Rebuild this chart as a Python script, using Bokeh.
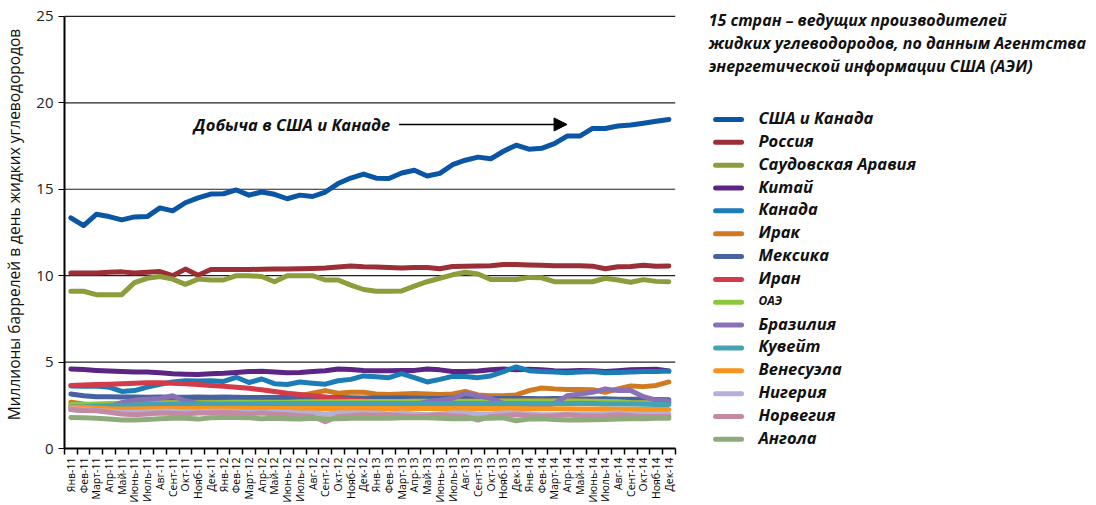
from bokeh.plotting import figure
from bokeh.models import (Range1d, FixedTicker, Label, Arrow, NormalHead)
from bokeh.embed import file_html
from bokeh.resources import INLINE

months = ["Янв-11", "Фев-11", "Март-11", "Апр-11", "Май-11", "Июнь-11", "Июль-11", "Авг-11", "Сент-11", "Окт-11", "Нояб-11", "Дек-11",
          "Янв-12", "Фев-12", "Март-12", "Апр-12", "Май-12", "Июнь-12", "Июль-12", "Авг-12", "Сент-12", "Окт-12", "Нояб-12", "Дек-12",
          "Янв-13", "Фев-13", "Март-13", "Апр-13", "Май-13", "Июнь-13", "Июль-13", "Авг-13", "Сент-13", "Окт-13", "Нояб-13", "Дек-13",
          "Янв-14", "Фев-14", "Март-14", "Апр-14", "Май-14", "Июнь-14", "Июль-14", "Авг-14", "Сент-14", "Окт-14", "Нояб-14", "Дек-14"]

names = ["США и Канада", "Россия", "Саудовская Аравия", "Китай", "Канада", "Ирак", "Мексика", "Иран",
         "ОАЭ", "Бразилия", "Кувейт", "Венесуэла", "Нигерия", "Норвегия", "Ангола"]

colors = ["#0b56a4", "#9a2f36", "#8c9d3c", "#5c2483", "#1c7cb6", "#cf7a20", "#46639f", "#d33b4b",
          "#8dc63f", "#8a70b4", "#45a1b4", "#f7941d", "#b3b0dc", "#c48aa3", "#8eab7c"]

us_ca = [13.35, 12.9, 13.55, 13.42, 13.23, 13.4, 13.42, 13.92, 13.75, 14.22, 14.5, 14.72,
         14.74, 14.96, 14.66, 14.84, 14.71, 14.45, 14.66, 14.58, 14.84, 15.33, 15.65, 15.88,
         15.64, 15.62, 15.94, 16.1, 15.77, 15.92, 16.42, 16.68, 16.86, 16.76, 17.2, 17.55,
         17.32, 17.37, 17.64, 18.08, 18.08, 18.52, 18.52, 18.66, 18.72, 18.82, 18.93, 19.04]
russia = [10.15, 10.15, 10.15, 10.2, 10.22, 10.15, 10.2, 10.24, 10.0, 10.38, 10.02, 10.36,
          10.36, 10.36, 10.36, 10.37, 10.38, 10.38, 10.4, 10.42, 10.45, 10.5, 10.56, 10.52,
          10.5, 10.47, 10.45, 10.47, 10.47, 10.4, 10.53, 10.55, 10.56, 10.57, 10.65, 10.65,
          10.62, 10.6, 10.58, 10.58, 10.57, 10.55, 10.4, 10.52, 10.53, 10.6, 10.55, 10.56]
saudi = [9.1, 9.1, 8.9, 8.9, 8.9, 9.6, 9.85, 9.95, 9.8, 9.5, 9.8, 9.75,
         9.75, 10.0, 10.0, 9.95, 9.65, 10.0, 10.0, 10.0, 9.75, 9.75, 9.45, 9.2,
         9.1, 9.1, 9.12, 9.4, 9.65, 9.85, 10.05, 10.2, 10.1, 9.78, 9.78, 9.78,
         9.9, 9.88, 9.65, 9.65, 9.65, 9.65, 9.85, 9.75, 9.62, 9.77, 9.67, 9.65]
china = [4.6, 4.57, 4.52, 4.48, 4.45, 4.42, 4.42, 4.38, 4.33, 4.3, 4.28, 4.33,
         4.35, 4.4, 4.45, 4.47, 4.42, 4.38, 4.4, 4.45, 4.5, 4.6, 4.57, 4.52,
         4.5, 4.5, 4.52, 4.52, 4.6, 4.55, 4.45, 4.45, 4.48, 4.55, 4.6, 4.55,
         4.58, 4.55, 4.5, 4.48, 4.52, 4.5, 4.45, 4.5, 4.55, 4.57, 4.58, 4.48]
canada = [3.62, 3.6, 3.62, 3.55, 3.3, 3.35, 3.55, 3.72, 3.85, 3.92, 3.9, 3.92,
          3.88, 4.12, 3.82, 4.02, 3.75, 3.7, 3.85, 3.78, 3.72, 3.92, 4.0, 4.2,
          4.15, 4.1, 4.33, 4.1, 3.85, 4.0, 4.17, 4.17, 4.1, 4.2, 4.45, 4.72,
          4.5, 4.45, 4.42, 4.38, 4.42, 4.45, 4.38, 4.4, 4.42, 4.45, 4.45, 4.48]
iraq = [2.68, 2.58, 2.5, 2.55, 2.6, 2.62, 2.68, 2.72, 2.76, 2.8, 2.82, 2.82,
        2.82, 2.8, 2.75, 2.72, 2.78, 2.88, 3.05, 3.2, 3.35, 3.2, 3.25, 3.25,
        3.15, 3.13, 3.15, 3.18, 3.15, 3.12, 3.15, 3.3, 3.1, 3.05, 3.05, 3.1,
        3.35, 3.5, 3.45, 3.42, 3.42, 3.4, 3.25, 3.45, 3.62, 3.58, 3.65, 3.85]
mexico = [3.15, 3.05, 3.0, 3.0, 2.98, 2.98, 2.97, 2.98, 2.97, 2.97, 2.98, 2.97,
          2.98, 2.97, 2.95, 2.95, 2.95, 2.95, 2.95, 2.93, 2.95, 2.95, 2.93, 2.92,
          2.92, 2.92, 2.93, 2.92, 2.9, 2.9, 2.92, 2.9, 2.92, 2.9, 2.9, 2.9,
          2.9, 2.88, 2.9, 2.88, 2.87, 2.87, 2.88, 2.85, 2.85, 2.85, 2.83, 2.82]
iran = [3.65, 3.68, 3.7, 3.72, 3.75, 3.78, 3.8, 3.8, 3.78, 3.75, 3.7, 3.65,
        3.6, 3.55, 3.48, 3.4, 3.3, 3.2, 3.12, 3.05, 2.98, 2.9, 2.82, 2.76,
        2.72, 2.72, 2.72, 2.73, 2.72, 2.73, 2.74, 2.74, 2.74, 2.74, 2.75, 2.75,
        2.75, 2.75, 2.75, 2.75, 2.75, 2.74, 2.72, 2.7, 2.66, 2.64, 2.64, 2.65]
uae = [2.55, 2.55, 2.58, 2.6, 2.62, 2.62, 2.62, 2.63, 2.65, 2.65, 2.65, 2.65,
       2.66, 2.67, 2.68, 2.68, 2.68, 2.68, 2.7, 2.7, 2.7, 2.7, 2.72, 2.72,
       2.72, 2.72, 2.72, 2.73, 2.73, 2.73, 2.74, 2.74, 2.74, 2.74, 2.75, 2.75,
       2.75, 2.75, 2.75, 2.75, 2.75, 2.74, 2.72, 2.7, 2.66, 2.64, 2.64, 2.65]
brazil = [2.25, 2.2, 2.25, 2.4, 2.65, 2.8, 2.85, 2.9, 3.05, 2.75, 2.6, 2.5,
          2.5, 2.45, 2.35, 2.25, 2.2, 2.3, 2.4, 2.55, 2.45, 2.4, 2.45, 2.5,
          2.4, 2.35, 2.3, 2.55, 2.7, 2.8, 2.9, 3.2, 3.05, 2.9, 2.6, 2.45,
          2.3, 2.4, 2.6, 3.05, 3.15, 3.25, 3.45, 3.35, 3.35, 3.0, 2.8, 2.75]
kuwait = [2.42, 2.42, 2.45, 2.48, 2.5, 2.52, 2.55, 2.55, 2.56, 2.57, 2.57, 2.57,
          2.58, 2.58, 2.58, 2.59, 2.59, 2.6, 2.6, 2.6, 2.6, 2.6, 2.6, 2.6,
          2.6, 2.6, 2.6, 2.6, 2.6, 2.6, 2.6, 2.6, 2.6, 2.6, 2.6, 2.6,
          2.6, 2.6, 2.6, 2.6, 2.6, 2.6, 2.58, 2.58, 2.57, 2.56, 2.55, 2.55]
venezuela = [2.4, 2.38, 2.35, 2.3, 2.28, 2.28, 2.3, 2.32, 2.32, 2.32, 2.32, 2.32,
             2.32, 2.32, 2.32, 2.32, 2.32, 2.32, 2.32, 2.32, 2.32, 2.32, 2.32, 2.32,
             2.32, 2.32, 2.32, 2.32, 2.32, 2.32, 2.32, 2.32, 2.32, 2.32, 2.32, 2.32,
             2.3, 2.3, 2.3, 2.3, 2.28, 2.28, 2.28, 2.27, 2.27, 2.26, 2.26, 2.25]
nigeria = [2.3, 2.25, 2.2, 2.15, 2.1, 2.1, 2.12, 2.15, 2.15, 2.12, 2.12, 2.15,
           2.15, 2.12, 2.1, 2.1, 2.12, 2.1, 2.05, 2.05, 2.0, 2.05, 2.05, 2.05,
           2.05, 2.0, 2.05, 2.0, 1.95, 2.0, 2.05, 2.05, 2.0, 2.0, 2.05, 2.05,
           2.0, 1.95, 1.95, 1.98, 2.0, 2.0, 2.02, 2.05, 2.0, 1.98, 2.0, 2.0]
norway = [2.25, 2.2, 2.18, 2.1, 2.0, 1.95, 2.0, 2.05, 2.02, 2.0, 2.05, 2.05,
          2.08, 2.05, 2.0, 2.05, 2.0, 1.95, 1.9, 1.85, 1.55, 1.85, 1.9, 1.95,
          1.92, 1.95, 1.9, 1.85, 1.9, 1.95, 1.9, 1.85, 1.65, 1.85, 1.9, 1.95,
          1.9, 1.85, 1.9, 1.95, 1.9, 1.88, 1.9, 1.95, 1.9, 1.85, 1.85, 1.85]
angola = [1.8, 1.78, 1.75, 1.7, 1.65, 1.65, 1.68, 1.72, 1.75, 1.75, 1.7, 1.78,
          1.8, 1.8, 1.78, 1.72, 1.75, 1.72, 1.7, 1.75, 1.72, 1.72, 1.75, 1.75,
          1.75, 1.75, 1.78, 1.8, 1.78, 1.75, 1.72, 1.72, 1.75, 1.75, 1.78, 1.6,
          1.7, 1.72, 1.68, 1.65, 1.65, 1.67, 1.68, 1.7, 1.72, 1.72, 1.75, 1.75]

series = [us_ca, russia, saudi, china, canada, iraq, mexico, iran,
          uae, brazil, kuwait, venezuela, nigeria, norway, angola]

y_ticks = [0, 5, 10, 15, 20, 25]
title_lines = ["15 стран – ведущих производителей",
               "жидких углеводородов, по данным Агентства",
               "энергетической информации США (АЭИ)"]
annot_text = "Добыча в США и Канаде"
y_label = "Миллионы баррелей в день жидких углеводородов"

FONT = "Open Sans"
W, H = 1096, 505

# page-pixel layout of the plotting frame
FR_LEFT, FR_RIGHT, FR_TOP, FR_BOTTOM = 61, W, 0, 450
CAT_PX = 12.76                           # px per month slot
Y_PX = (FR_BOTTOM - 16) / y_ticks[-1]    # px per unit (25 sits at page y=16)

n = len(months)
xs = list(range(n))
x_end = -0.5 + (FR_RIGHT - FR_LEFT) / CAT_PX
y_end = (FR_BOTTOM - FR_TOP) / Y_PX

p = figure(width=W, height=H, output_backend="svg", toolbar_location=None,
           x_range=Range1d(-0.5, x_end), y_range=Range1d(0, y_end),
           min_border_left=FR_LEFT, min_border_right=W - FR_RIGHT,
           min_border_top=FR_TOP, min_border_bottom=H - FR_BOTTOM)
p.extra_x_ranges = {"px": Range1d(FR_LEFT, FR_RIGHT)}
p.extra_y_ranges = {"py": Range1d(FR_BOTTOM, FR_TOP)}
p.outline_line_color = None
p.grid.visible = False

# horizontal grid lines only across the month slots
p.segment(x0=[-0.5] * len(y_ticks), x1=[n - 0.5] * len(y_ticks), y0=y_ticks, y1=y_ticks,
          line_color="#222222", line_width=1.2)

for vals, col in zip(series, colors):
    p.line(xs, vals, line_color=col, line_width=5, line_join="round", line_cap="round")

# axes
xa = p.xaxis[0]
xa.bounds = (-0.5, n - 0.5)
xa.ticker = FixedTicker(ticks=xs, minor_ticks=[i - 0.5 for i in range(n + 1)])
xa.major_label_overrides = {i: m for i, m in enumerate(months)}
xa.major_label_orientation = 3.14159265 / 2
xa.major_label_text_font = FONT
xa.major_label_text_font_size = "10.5px"
xa.major_label_text_color = "#000000"
xa.major_tick_out = 0
xa.major_tick_in = 0
xa.minor_tick_out = 6
xa.minor_tick_in = 0
xa.minor_tick_line_color = "#000000"
xa.minor_tick_line_width = 1.5
xa.axis_line_color = "#000000"
xa.axis_line_width = 2
xa.major_label_standoff = 3

ya = p.yaxis[0]
ya.bounds = (0, y_ticks[-1])
ya.ticker = FixedTicker(ticks=y_ticks)
ya.minor_tick_line_color = None
ya.major_tick_out = 6
ya.major_tick_in = 0
ya.major_tick_line_color = "#000000"
ya.major_tick_line_width = 1
ya.axis_line_color = "#000000"
ya.axis_line_width = 2
ya.major_label_text_font = FONT
ya.major_label_text_font_size = "15px"
ya.major_label_text_color = "#222222"
ya.major_label_standoff = 5
ya.axis_label = y_label
ya.axis_label_text_font = FONT
ya.axis_label_text_font_size = "15.5px"
ya.axis_label_text_font_style = "normal"
ya.axis_label_text_color = "#111111"
ya.axis_label_standoff = 8

# annotation
p.add_layout(Label(x=25.1, y=18.75, text=annot_text, text_align="right", text_baseline="middle",
                   text_font=FONT, text_font_style="bold italic", text_font_size="16.5px",
                   text_color="#111111"))
p.add_layout(Arrow(x_start=25.8, y_start=18.75, x_end=39.0, y_end=18.75, line_width=1.5,
                   line_color="#000000",
                   end=NormalHead(size=13, fill_color="#000000", line_color="#000000")))

# legend block (page-pixel layout)
for i, t in enumerate(title_lines):
    p.add_layout(Label(x=707, y=20 + 23 * i, text=t, text_font=FONT,
                       text_font_style="bold italic", text_font_size="16px",
                       text_baseline="middle", text_color="#111111",
                       x_range_name="px", y_range_name="py"))

leg_y = [119.5 + 22.95 * i for i in range(len(names))]
p.segment(x0=[714] * len(names), y0=leg_y, x1=[740] * len(names), y1=leg_y,
          line_color=colors, line_width=5, line_cap="round",
          x_range_name="px", y_range_name="py")
for nm, yy in zip(names, leg_y):
    p.add_layout(Label(x=757, y=yy - 2, text=nm, text_font=FONT,
                       text_font_style="bold italic",
                       text_font_size="12px" if nm == "ОАЭ" else "16.5px",
                       text_baseline="middle", text_color="#111111",
                       x_range_name="px", y_range_name="py"))

open("out.html", "w").write(file_html(p, INLINE))
